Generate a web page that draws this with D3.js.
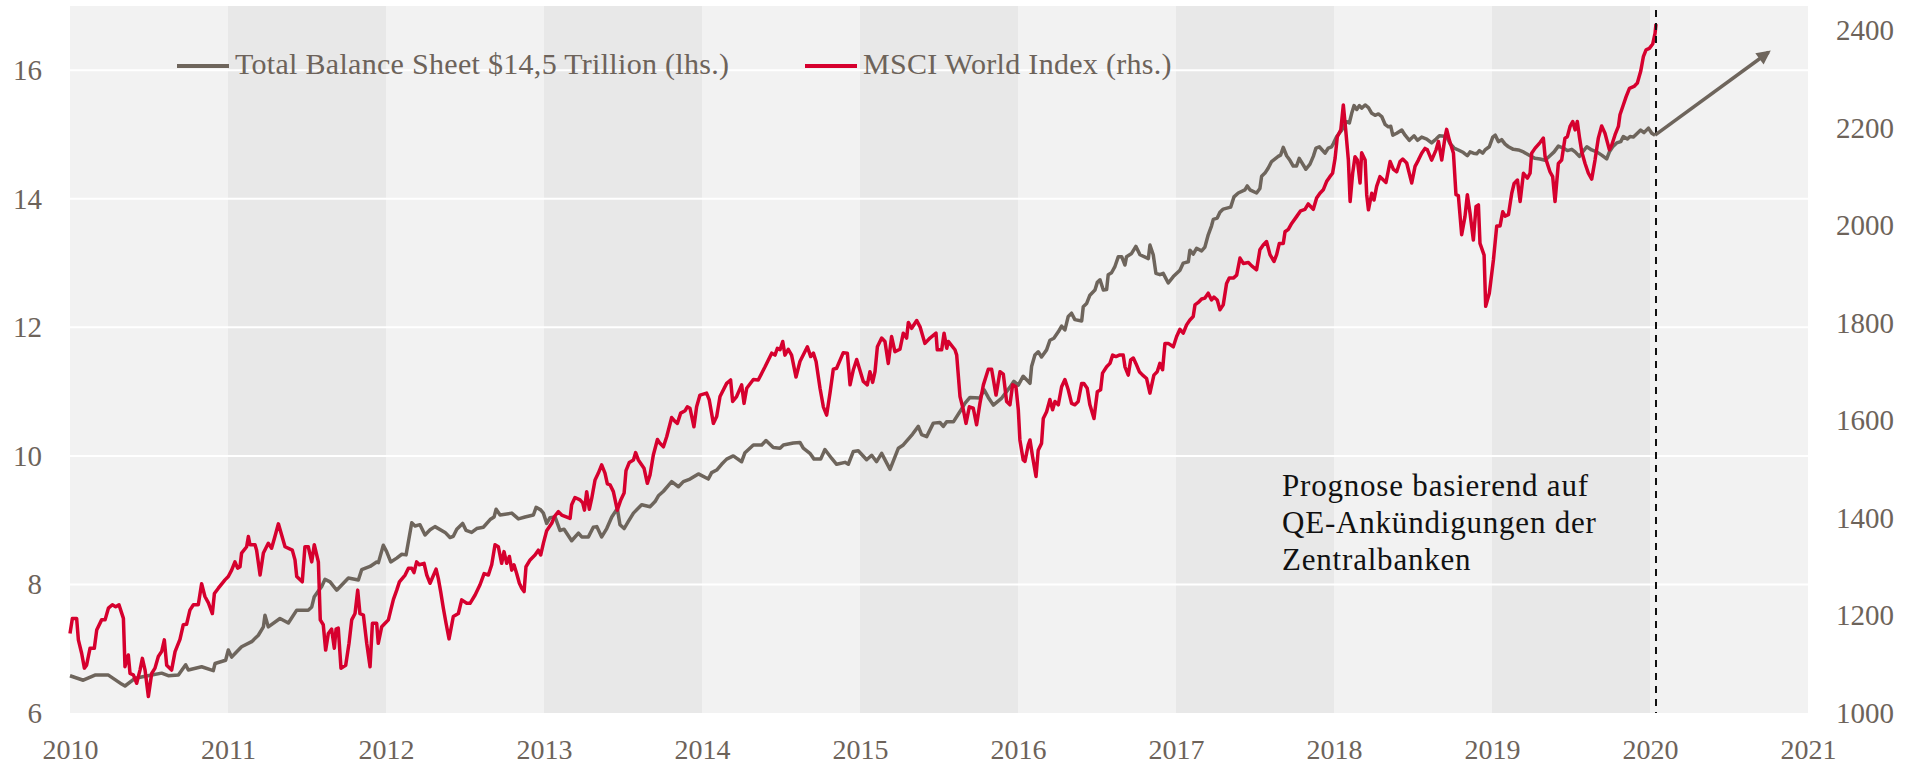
<!DOCTYPE html>
<html>
<head>
<meta charset="utf-8">
<script src="https://cdn.jsdelivr.net/npm/d3@7"></script>
<style>
    html, body { margin: 0; padding: 0; background: #ffffff; }
    svg { display: block; }
</style>
</head>
<body>
<div id="chart"></div>
<script>
// Fed total balance sheet (left axis, USD trillion), weekly readings as [year, value]
const balanceSheet = [
    [2010.000, 6.58], [2010.084, 6.51], [2010.158, 6.59], [2010.243, 6.59], [2010.327, 6.45], [2010.348, 6.42],
    [2010.411, 6.54], [2010.517, 6.59], [2010.580, 6.62], [2010.622, 6.58], [2010.686, 6.59], [2010.732, 6.75],
    [2010.749, 6.67], [2010.833, 6.72], [2010.907, 6.66], [2010.918, 6.77], [2010.985, 6.82], [2011.002, 6.98],
    [2011.023, 6.87], [2011.086, 7.03], [2011.150, 7.11], [2011.192, 7.21], [2011.224, 7.34], [2011.234, 7.52],
    [2011.255, 7.34], [2011.329, 7.47], [2011.382, 7.40], [2011.435, 7.60], [2011.508, 7.60], [2011.530, 7.65],
    [2011.546, 7.81], [2011.593, 7.97], [2011.614, 8.08], [2011.646, 8.04], [2011.688, 7.91], [2011.762, 8.10],
    [2011.825, 8.07], [2011.846, 8.23], [2011.899, 8.28], [2011.941, 8.35], [2011.952, 8.34], [2011.983, 8.61],
    [2012.004, 8.51], [2012.030, 8.35], [2012.068, 8.41], [2012.100, 8.47], [2012.127, 8.46], [2012.163, 8.96],
    [2012.184, 8.91], [2012.215, 8.93], [2012.247, 8.77], [2012.279, 8.85], [2012.310, 8.90], [2012.374, 8.81],
    [2012.405, 8.73], [2012.426, 8.75], [2012.448, 8.86], [2012.485, 8.95], [2012.507, 8.84], [2012.542, 8.81],
    [2012.574, 8.87], [2012.616, 8.89], [2012.659, 9.01], [2012.684, 9.05], [2012.697, 9.17], [2012.722, 9.08],
    [2012.796, 9.11], [2012.838, 9.02], [2012.880, 9.05], [2012.933, 9.08], [2012.950, 9.20], [2012.979, 9.16],
    [2012.996, 9.11], [2013.017, 8.95], [2013.038, 9.04], [2013.070, 9.05], [2013.101, 8.84], [2013.127, 8.86],
    [2013.175, 8.68], [2013.218, 8.80], [2013.239, 8.74], [2013.281, 8.74], [2013.312, 8.89], [2013.334, 8.90],
    [2013.365, 8.74], [2013.397, 8.87], [2013.429, 9.05], [2013.464, 9.18], [2013.481, 8.93], [2013.507, 8.87],
    [2013.534, 8.98], [2013.566, 9.11], [2013.618, 9.24], [2013.671, 9.21], [2013.703, 9.29], [2013.724, 9.38],
    [2013.756, 9.45], [2013.808, 9.60], [2013.851, 9.52], [2013.882, 9.60], [2013.924, 9.64], [2013.977, 9.72],
    [2014.040, 9.64], [2014.061, 9.74], [2014.093, 9.78], [2014.124, 9.87], [2014.156, 9.95], [2014.198, 10.00],
    [2014.251, 9.91], [2014.272, 10.05], [2014.325, 10.17], [2014.378, 10.17], [2014.405, 10.24], [2014.451, 10.13],
    [2014.494, 10.12], [2014.515, 10.17], [2014.578, 10.20], [2014.620, 10.21], [2014.641, 10.12], [2014.683, 10.04],
    [2014.709, 9.95], [2014.751, 9.95], [2014.778, 10.10], [2014.821, 9.96], [2014.852, 9.87], [2014.905, 9.90],
    [2014.926, 9.87], [2014.958, 10.07], [2014.989, 10.08], [2015.042, 9.94], [2015.074, 10.01], [2015.105, 9.91],
    [2015.137, 10.04], [2015.190, 9.79], [2015.243, 10.12], [2015.274, 10.17], [2015.333, 10.34], [2015.369, 10.46],
    [2015.390, 10.33], [2015.422, 10.30], [2015.464, 10.51], [2015.506, 10.52], [2015.527, 10.46], [2015.548, 10.53],
    [2015.591, 10.53], [2015.633, 10.69], [2015.665, 10.82], [2015.696, 10.91], [2015.759, 10.90], [2015.785, 11.03],
    [2015.812, 10.91], [2015.844, 10.79], [2015.897, 10.90], [2015.949, 11.07], [2015.974, 11.16], [2016.002, 11.10],
    [2016.033, 11.24], [2016.076, 11.13], [2016.086, 11.39], [2016.107, 11.57], [2016.128, 11.62], [2016.149, 11.54],
    [2016.181, 11.65], [2016.202, 11.80], [2016.227, 11.83], [2016.255, 11.93], [2016.276, 12.02], [2016.297, 11.96],
    [2016.318, 12.17], [2016.339, 12.22], [2016.360, 12.12], [2016.403, 12.10], [2016.413, 12.32], [2016.434, 12.37],
    [2016.455, 12.50], [2016.487, 12.58], [2016.502, 12.70], [2016.519, 12.74], [2016.540, 12.58], [2016.561, 12.59],
    [2016.571, 12.82], [2016.592, 12.85], [2016.614, 12.95], [2016.635, 13.10], [2016.656, 13.10], [2016.677, 12.97],
    [2016.687, 13.10], [2016.719, 13.15], [2016.746, 13.26], [2016.772, 13.13], [2016.825, 13.07], [2016.835, 13.28],
    [2016.856, 13.13], [2016.873, 12.84], [2016.898, 12.82], [2016.919, 12.84], [2016.951, 12.69], [2016.983, 12.79],
    [2017.025, 12.89], [2017.046, 13.00], [2017.078, 13.02], [2017.088, 13.20], [2017.109, 13.14], [2017.130, 13.23],
    [2017.162, 13.19], [2017.183, 13.25], [2017.204, 13.44], [2017.225, 13.58], [2017.236, 13.68], [2017.261, 13.70],
    [2017.278, 13.79], [2017.299, 13.84], [2017.346, 13.87], [2017.367, 14.03], [2017.394, 14.09], [2017.436, 14.14],
    [2017.451, 14.20], [2017.468, 14.14], [2017.510, 14.09], [2017.531, 14.16], [2017.542, 14.35], [2017.563, 14.40],
    [2017.584, 14.48], [2017.605, 14.58], [2017.647, 14.66], [2017.662, 14.68], [2017.679, 14.80], [2017.700, 14.67],
    [2017.721, 14.60], [2017.742, 14.51], [2017.763, 14.51], [2017.780, 14.63], [2017.822, 14.46], [2017.848, 14.54],
    [2017.869, 14.66], [2017.886, 14.79], [2017.907, 14.81], [2017.943, 14.71], [2017.964, 14.79], [2017.985, 14.81],
    [2017.996, 14.86], [2018.017, 14.97], [2018.049, 15.07], [2018.080, 15.20], [2018.097, 15.18], [2018.112, 15.33],
    [2018.127, 15.45], [2018.144, 15.39], [2018.161, 15.45], [2018.175, 15.41], [2018.197, 15.46], [2018.218, 15.42],
    [2018.239, 15.33], [2018.260, 15.30], [2018.281, 15.32], [2018.302, 15.28], [2018.323, 15.16], [2018.344, 15.12],
    [2018.359, 15.13], [2018.372, 14.99], [2018.397, 15.02], [2018.429, 15.07], [2018.450, 14.99], [2018.477, 14.91],
    [2018.507, 14.98], [2018.528, 14.91], [2018.555, 14.96], [2018.587, 14.93], [2018.618, 14.87], [2018.646, 14.93],
    [2018.667, 14.98], [2018.713, 14.97], [2018.734, 14.86], [2018.760, 14.79], [2018.787, 14.76], [2018.819, 14.72],
    [2018.844, 14.67], [2018.861, 14.73], [2018.882, 14.71], [2018.903, 14.70], [2018.920, 14.75], [2018.941, 14.71],
    [2018.956, 14.76], [2018.983, 14.81], [2019.005, 14.96], [2019.021, 14.99], [2019.040, 14.89], [2019.061, 14.92],
    [2019.083, 14.85], [2019.104, 14.81], [2019.135, 14.77], [2019.167, 14.76], [2019.199, 14.73], [2019.241, 14.67],
    [2019.272, 14.63], [2019.304, 14.62], [2019.336, 14.60], [2019.367, 14.67], [2019.393, 14.73], [2019.420, 14.82],
    [2019.452, 14.79], [2019.477, 14.75], [2019.505, 14.77], [2019.526, 14.73], [2019.553, 14.66], [2019.574, 14.73],
    [2019.600, 14.81], [2019.631, 14.76], [2019.663, 14.73], [2019.694, 14.68], [2019.726, 14.62], [2019.743, 14.73],
    [2019.764, 14.81], [2019.789, 14.87], [2019.815, 14.89], [2019.831, 14.97], [2019.857, 14.93], [2019.874, 14.97],
    [2019.895, 14.96], [2019.920, 15.02], [2019.941, 15.07], [2019.962, 15.03], [2019.990, 15.10], [2020.011, 15.02],
    [2020.032, 14.99]
];

// MSCI World index (right axis), weekly readings as [year, value]
const msciWorld = [
    [2010.000, 1163], [2010.015, 1194], [2010.042, 1194], [2010.053, 1150], [2010.074, 1122], [2010.091, 1092],
    [2010.105, 1098], [2010.127, 1133], [2010.154, 1133], [2010.169, 1170], [2010.200, 1191], [2010.222, 1191],
    [2010.243, 1215], [2010.268, 1222], [2010.289, 1218], [2010.310, 1222], [2010.338, 1194], [2010.348, 1095],
    [2010.359, 1109], [2010.369, 1119], [2010.380, 1081], [2010.401, 1078], [2010.422, 1061], [2010.443, 1088],
    [2010.458, 1112], [2010.475, 1088], [2010.496, 1034], [2010.517, 1081], [2010.538, 1092], [2010.559, 1116],
    [2010.580, 1126], [2010.597, 1150], [2010.612, 1098], [2010.643, 1088], [2010.665, 1126], [2010.696, 1151],
    [2010.717, 1181], [2010.738, 1182], [2010.759, 1211], [2010.781, 1222], [2010.812, 1222], [2010.833, 1265],
    [2010.854, 1239], [2010.876, 1226], [2010.901, 1204], [2010.914, 1245], [2010.939, 1256], [2010.981, 1273],
    [2011.002, 1280], [2011.023, 1293], [2011.044, 1310], [2011.061, 1297], [2011.076, 1300], [2011.086, 1328],
    [2011.118, 1341], [2011.129, 1362], [2011.139, 1345], [2011.171, 1345], [2011.181, 1334], [2011.203, 1283],
    [2011.224, 1328], [2011.255, 1348], [2011.276, 1338], [2011.297, 1362], [2011.319, 1388], [2011.361, 1341],
    [2011.407, 1334], [2011.424, 1314], [2011.435, 1280], [2011.470, 1269], [2011.487, 1341], [2011.508, 1341],
    [2011.530, 1310], [2011.546, 1345], [2011.572, 1310], [2011.584, 1191], [2011.603, 1181], [2011.618, 1129],
    [2011.635, 1163], [2011.656, 1172], [2011.673, 1133], [2011.684, 1172], [2011.698, 1174], [2011.715, 1092],
    [2011.745, 1098], [2011.766, 1143], [2011.783, 1191], [2011.804, 1204], [2011.821, 1252], [2011.835, 1204],
    [2011.857, 1201], [2011.878, 1143], [2011.899, 1095], [2011.914, 1184], [2011.941, 1184], [2011.951, 1143],
    [2011.973, 1177], [2011.994, 1184], [2012.015, 1191], [2012.030, 1211], [2012.047, 1233], [2012.068, 1252],
    [2012.085, 1269], [2012.121, 1283], [2012.142, 1297], [2012.163, 1297], [2012.177, 1288], [2012.194, 1310],
    [2012.211, 1304], [2012.241, 1307], [2012.258, 1283], [2012.279, 1266], [2012.317, 1295], [2012.331, 1276],
    [2012.346, 1249], [2012.363, 1215], [2012.380, 1184], [2012.399, 1152], [2012.426, 1198], [2012.458, 1204],
    [2012.479, 1232], [2012.511, 1225], [2012.532, 1225], [2012.564, 1242], [2012.595, 1263], [2012.621, 1286],
    [2012.648, 1283], [2012.669, 1304], [2012.690, 1345], [2012.711, 1341], [2012.732, 1307], [2012.747, 1331],
    [2012.764, 1307], [2012.781, 1321], [2012.796, 1293], [2012.810, 1304], [2012.827, 1286], [2012.844, 1266],
    [2012.859, 1256], [2012.874, 1249], [2012.886, 1300], [2012.912, 1314], [2012.943, 1324], [2012.964, 1334],
    [2012.979, 1324], [2012.996, 1348], [2013.017, 1374], [2013.049, 1389], [2013.066, 1403], [2013.091, 1413],
    [2013.112, 1406], [2013.165, 1399], [2013.175, 1427], [2013.196, 1442], [2013.228, 1437], [2013.245, 1431],
    [2013.256, 1416], [2013.270, 1454], [2013.287, 1418], [2013.302, 1440], [2013.323, 1478], [2013.344, 1492],
    [2013.365, 1509], [2013.386, 1492], [2013.401, 1470], [2013.418, 1468], [2013.439, 1454], [2013.464, 1416],
    [2013.486, 1437], [2013.507, 1451], [2013.519, 1497], [2013.540, 1514], [2013.566, 1519], [2013.580, 1534],
    [2013.597, 1519], [2013.633, 1502], [2013.654, 1471], [2013.671, 1488], [2013.692, 1529], [2013.718, 1561],
    [2013.734, 1553], [2013.756, 1546], [2013.777, 1567], [2013.808, 1606], [2013.829, 1598], [2013.844, 1594],
    [2013.865, 1615], [2013.893, 1620], [2013.907, 1628], [2013.924, 1625], [2013.949, 1587], [2013.966, 1628],
    [2013.987, 1652], [2014.029, 1656], [2014.046, 1642], [2014.072, 1594], [2014.093, 1608], [2014.114, 1649],
    [2014.156, 1676], [2014.181, 1683], [2014.194, 1639], [2014.219, 1649], [2014.251, 1673], [2014.266, 1635],
    [2014.283, 1666], [2014.325, 1684], [2014.356, 1683], [2014.399, 1710], [2014.441, 1738], [2014.462, 1734],
    [2014.477, 1748], [2014.494, 1745], [2014.511, 1762], [2014.525, 1734], [2014.546, 1746], [2014.567, 1734],
    [2014.595, 1689], [2014.620, 1721], [2014.667, 1751], [2014.688, 1731], [2014.705, 1738], [2014.722, 1721],
    [2014.747, 1666], [2014.768, 1628], [2014.789, 1611], [2014.810, 1656], [2014.831, 1705], [2014.852, 1707],
    [2014.894, 1739], [2014.920, 1738], [2014.937, 1673], [2014.958, 1704], [2014.979, 1725], [2015.021, 1680],
    [2015.046, 1673], [2015.063, 1700], [2015.080, 1678], [2015.095, 1700], [2015.110, 1751], [2015.137, 1769],
    [2015.158, 1762], [2015.179, 1717], [2015.200, 1772], [2015.221, 1741], [2015.253, 1746], [2015.274, 1779],
    [2015.295, 1769], [2015.306, 1801], [2015.327, 1789], [2015.359, 1805], [2015.380, 1792], [2015.411, 1758],
    [2015.443, 1769], [2015.481, 1779], [2015.489, 1745], [2015.517, 1745], [2015.532, 1779], [2015.549, 1748],
    [2015.559, 1762], [2015.601, 1745], [2015.612, 1734], [2015.633, 1649], [2015.654, 1622], [2015.671, 1594],
    [2015.692, 1628], [2015.717, 1625], [2015.738, 1591], [2015.759, 1635], [2015.781, 1673], [2015.812, 1705],
    [2015.833, 1705], [2015.861, 1652], [2015.886, 1700], [2015.907, 1695], [2015.928, 1639], [2015.949, 1632],
    [2015.966, 1673], [2015.987, 1669], [2016.002, 1622], [2016.012, 1560], [2016.033, 1519], [2016.044, 1516],
    [2016.065, 1550], [2016.076, 1560], [2016.092, 1526], [2016.114, 1485], [2016.128, 1539], [2016.149, 1553],
    [2016.160, 1604], [2016.181, 1618], [2016.202, 1643], [2016.219, 1622], [2016.234, 1639], [2016.255, 1632],
    [2016.276, 1669], [2016.297, 1684], [2016.318, 1663], [2016.339, 1635], [2016.360, 1632], [2016.381, 1639],
    [2016.403, 1676], [2016.417, 1676], [2016.438, 1666], [2016.455, 1632], [2016.481, 1604], [2016.502, 1659],
    [2016.523, 1663], [2016.535, 1697], [2016.561, 1710], [2016.582, 1717], [2016.599, 1734], [2016.620, 1731],
    [2016.641, 1734], [2016.666, 1734], [2016.677, 1710], [2016.698, 1693], [2016.713, 1724], [2016.730, 1728],
    [2016.746, 1717], [2016.768, 1700], [2016.789, 1693], [2016.814, 1686], [2016.835, 1656], [2016.860, 1693],
    [2016.881, 1700], [2016.898, 1717], [2016.915, 1704], [2016.930, 1758], [2016.951, 1758], [2016.983, 1751],
    [2017.004, 1772], [2017.025, 1787], [2017.046, 1779], [2017.067, 1796], [2017.088, 1806], [2017.109, 1813],
    [2017.120, 1837], [2017.141, 1842], [2017.162, 1849], [2017.183, 1851], [2017.204, 1861], [2017.225, 1847],
    [2017.240, 1853], [2017.261, 1847], [2017.278, 1827], [2017.299, 1837], [2017.320, 1881], [2017.337, 1892],
    [2017.363, 1892], [2017.384, 1898], [2017.405, 1933], [2017.426, 1922], [2017.458, 1924], [2017.479, 1917],
    [2017.510, 1909], [2017.531, 1950], [2017.552, 1960], [2017.573, 1967], [2017.595, 1940], [2017.620, 1926],
    [2017.637, 1940], [2017.654, 1963], [2017.679, 1963], [2017.690, 1987], [2017.711, 1992], [2017.732, 2004],
    [2017.763, 2018], [2017.789, 2030], [2017.816, 2033], [2017.837, 2044], [2017.869, 2033], [2017.890, 2056],
    [2017.911, 2066], [2017.932, 2073], [2017.953, 2090], [2017.974, 2100], [2017.991, 2107], [2018.007, 2138],
    [2018.021, 2182], [2018.043, 2196], [2018.059, 2247], [2018.076, 2189], [2018.091, 2134], [2018.102, 2049],
    [2018.118, 2107], [2018.133, 2141], [2018.148, 2134], [2018.165, 2087], [2018.175, 2149], [2018.197, 2134],
    [2018.207, 2063], [2018.218, 2032], [2018.239, 2066], [2018.253, 2052], [2018.270, 2080], [2018.291, 2100],
    [2018.329, 2088], [2018.355, 2131], [2018.376, 2115], [2018.397, 2110], [2018.418, 2131], [2018.435, 2136],
    [2018.460, 2128], [2018.492, 2087], [2018.513, 2121], [2018.534, 2134], [2018.555, 2148], [2018.576, 2158],
    [2018.591, 2155], [2018.618, 2134], [2018.646, 2155], [2018.661, 2172], [2018.682, 2134], [2018.703, 2182],
    [2018.713, 2197], [2018.730, 2175], [2018.756, 2148], [2018.772, 2063], [2018.787, 2061], [2018.808, 1981],
    [2018.829, 2018], [2018.844, 2063], [2018.861, 2025], [2018.882, 1970], [2018.899, 2039], [2018.914, 2042],
    [2018.924, 1963], [2018.950, 1939], [2018.960, 1834], [2018.983, 1861], [2019.009, 1929], [2019.030, 1999],
    [2019.051, 1999], [2019.068, 2028], [2019.083, 2019], [2019.104, 2022], [2019.125, 2066], [2019.140, 2086],
    [2019.161, 2093], [2019.178, 2049], [2019.199, 2107], [2019.224, 2097], [2019.241, 2107], [2019.251, 2148],
    [2019.272, 2158], [2019.304, 2170], [2019.325, 2179], [2019.336, 2141], [2019.367, 2110], [2019.384, 2100],
    [2019.399, 2049], [2019.420, 2127], [2019.441, 2134], [2019.462, 2179], [2019.477, 2182], [2019.494, 2203],
    [2019.511, 2213], [2019.526, 2196], [2019.540, 2213], [2019.553, 2182], [2019.568, 2151], [2019.589, 2127],
    [2019.610, 2107], [2019.631, 2095], [2019.652, 2134], [2019.673, 2179], [2019.694, 2204], [2019.715, 2189],
    [2019.743, 2155], [2019.758, 2165], [2019.779, 2186], [2019.800, 2203], [2019.810, 2227], [2019.831, 2247],
    [2019.849, 2264], [2019.870, 2281], [2019.899, 2285], [2019.920, 2292], [2019.941, 2316], [2019.958, 2346],
    [2019.975, 2360], [2019.996, 2363], [2020.017, 2372], [2020.032, 2394], [2020.038, 2413]
];

// forecast arrow for the balance sheet: from the last reading up to this point
const forecastStart = 2020.038;
const forecastTarget = [2020.75, 16.28];

const years = d3.range(2010, 2021);
const yearTicks = d3.range(2010, 2022);
const leftTicks = [6, 8, 10, 12, 14, 16];
const gridTicks = [8, 10, 12, 14, 16];
const rightTicks = [1000, 1200, 1400, 1600, 1800, 2000, 2200, 2400];

const legendItems = [
    {label: 'Total Balance Sheet $14,5 Trillion (lhs.)', color: '#6e655c', x: 177},
    {label: 'MSCI World Index (rhs.)', color: '#d6002e', x: 805}
];
const noteLines = ['Prognose basierend auf', 'QE-Ankündigungen der', 'Zentralbanken'];

const width = 1916;
const height = 767;
const plot = {left: 70, right: 1808, top: 6, bottom: 713};
const fontFamily = '"Palatino Linotype", "Book Antiqua", Palatino, "Liberation Serif", serif';
const textColor = '#6d635a';

const svg = d3.select('#chart')
    .append('svg')
    .attr('width', width)
    .attr('height', height);

const x = d3.scaleLinear()
    .domain([2010, 2021])
    .range([plot.left, plot.right]);

const yLeft = d3.scaleLinear()
    .domain([6, 17])
    .range([plot.bottom, plot.top]);

const yRight = d3.scaleLinear()
    .domain([1000, 2450])
    .range([plot.bottom, plot.top]);

// alternating year bands
svg.append('g')
    .attr('class', 'bands')
    .selectAll('rect')
    .data(years)
    .enter()
    .append('rect')
    .attr('x', d => x(d))
    .attr('y', plot.top)
    .attr('width', d => x(d + 1) - x(d))
    .attr('height', plot.bottom - plot.top)
    .attr('fill', d => (d - 2010) % 2 === 0 ? '#f2f2f2' : '#e8e8e8');

// white horizontal grid lines
svg.append('g')
    .attr('class', 'grid')
    .selectAll('line')
    .data(gridTicks)
    .enter()
    .append('line')
    .attr('x1', plot.left)
    .attr('x2', plot.right)
    .attr('y1', d => yLeft(d))
    .attr('y2', d => yLeft(d))
    .attr('stroke', '#ffffff')
    .attr('stroke-width', 2);

function styleAxis(g, size) {
    g.select('.domain').remove();
    g.selectAll('.tick line').remove();
    g.selectAll('text')
        .attr('fill', textColor)
        .style('font-family', fontFamily)
        .style('font-size', size);
}

svg.append('g')
    .attr('class', 'y axis left')
    .attr('transform', `translate(${plot.left}, 0)`)
    .call(d3.axisLeft(yLeft).tickValues(leftTicks).tickSize(0).tickPadding(28).tickFormat(d3.format('d')))
    .call(styleAxis, '29px');

svg.append('g')
    .attr('class', 'y axis right')
    .attr('transform', `translate(${plot.right}, 0)`)
    .call(d3.axisRight(yRight).tickValues(rightTicks).tickSize(0).tickPadding(28).tickFormat(d3.format('d')))
    .call(styleAxis, '29px');

// year labels sit close to the bottom edge, so keep them slightly smaller to stay inside
svg.append('g')
    .attr('class', 'x axis')
    .attr('transform', `translate(0, ${plot.bottom})`)
    .call(d3.axisBottom(x).tickValues(yearTicks).tickSize(0).tickPadding(26).tickFormat(d3.format('d')))
    .call(styleAxis, '28px');

// series
const lineLeft = d3.line()
    .x(d => x(d[0]))
    .y(d => yLeft(d[1]));

const lineRight = d3.line()
    .x(d => x(d[0]))
    .y(d => yRight(d[1]));

svg.append('path')
    .datum(balanceSheet)
    .attr('fill', 'none')
    .attr('stroke', legendItems[0].color)
    .attr('stroke-width', 3.5)
    .attr('stroke-linejoin', 'round')
    .attr('d', lineLeft);

svg.append('path')
    .datum(msciWorld)
    .attr('fill', 'none')
    .attr('stroke', legendItems[1].color)
    .attr('stroke-width', 3.5)
    .attr('stroke-linejoin', 'round')
    .attr('d', lineRight);

// forecast marker: dashed vertical line + arrow
svg.append('line')
    .attr('x1', x(forecastStart))
    .attr('x2', x(forecastStart))
    .attr('y1', plot.top + 4)
    .attr('y2', plot.bottom)
    .attr('stroke', '#111111')
    .attr('stroke-width', 2)
    .attr('stroke-dasharray', '7,6');

svg.append('defs')
    .append('marker')
    .attr('id', 'arrow-head')
    .attr('viewBox', '0 0 10 10')
    .attr('refX', 8)
    .attr('refY', 5)
    .attr('markerWidth', 17)
    .attr('markerHeight', 14)
    .attr('markerUnits', 'userSpaceOnUse')
    .attr('orient', 'auto')
    .append('path')
    .attr('d', 'M0,0 L10,5 L0,10 Z')
    .attr('fill', legendItems[0].color);

const lastBalance = balanceSheet[balanceSheet.length - 1];
svg.append('line')
    .attr('x1', x(lastBalance[0]))
    .attr('y1', yLeft(lastBalance[1]))
    .attr('x2', x(forecastTarget[0]))
    .attr('y2', yLeft(forecastTarget[1]))
    .attr('stroke', legendItems[0].color)
    .attr('stroke-width', 3.5)
    .attr('marker-end', 'url(#arrow-head)');

// annotation
svg.append('text')
    .attr('x', 1282)
    .attr('y', 496)
    .attr('fill', '#111111')
    .style('font-family', fontFamily)
    .style('font-size', '31px')
    .style('letter-spacing', '0.8px')
    .selectAll('tspan')
    .data(noteLines)
    .enter()
    .append('tspan')
    .attr('x', 1282)
    .attr('dy', (d, i) => i === 0 ? 0 : 37)
    .text(d => d);

// legend
const legend = svg.append('g').attr('class', 'legend');
legend.selectAll('line')
    .data(legendItems)
    .enter()
    .append('line')
    .attr('x1', d => d.x)
    .attr('x2', d => d.x + 52)
    .attr('y1', 66)
    .attr('y2', 66)
    .attr('stroke', d => d.color)
    .attr('stroke-width', 3.8);

legend.selectAll('text')
    .data(legendItems)
    .enter()
    .append('text')
    .attr('x', d => d.x + 58)
    .attr('y', 74)
    .attr('fill', textColor)
    .style('font-family', fontFamily)
    .style('font-size', '30px')
    .style('letter-spacing', '0.3px')
    .text(d => d.label);
</script>
